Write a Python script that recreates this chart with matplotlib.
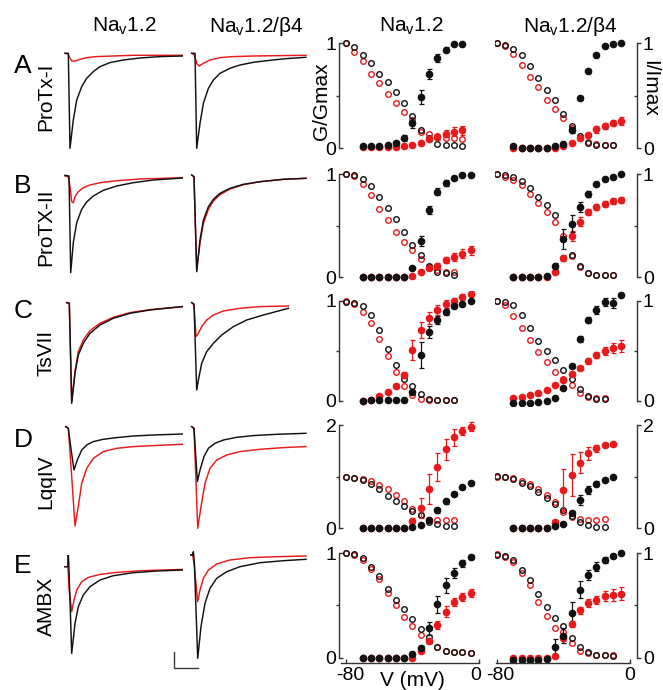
import numpy as np
import matplotlib.pyplot as plt
import matplotlib.transforms as mtransforms

plt.rcParams['font.family'] = ['Liberation Sans', 'DejaVu Sans']
plt.rcParams['mathtext.fontset'] = 'custom'
plt.rcParams['mathtext.rm'] = 'Liberation Sans'
plt.rcParams['mathtext.it'] = 'Liberation Sans:italic'

W, H = 663, 690
RED = '#e8191b'
BLK = '#111111'

# ---- labels
col_titles = ['Na$_\\mathrm{v}$1.2', 'Na$_\\mathrm{v}$1.2/\u03b24',
              'Na$_\\mathrm{v}$1.2', 'Na$_\\mathrm{v}$1.2/\u03b24']
row_letters = ['A', 'B', 'C', 'D', 'E']
toxins = ['ProTx-I', 'ProTX-II', 'TsVII', 'LqqIV', 'AMBX']
row_top = [1, 1, 1, 2, 1]

# ---- current traces (time, current) in arbitrary units, black = control, red = toxin
A1_ctl = [(0, 0), (3.3, 0), (5, -95), (8.3, -66.7), (11.7, -46.7), (16.7, -33.3), (21.7, -25), (28.3, -18.3),
          (35, -13.3), (45, -9.3), (58.3, -6.7), (75, -4.7), (95, -3.3), (117.7, -2.7)]
A1_tox = [(0, 0), (3.3, -0.7), (5, -5), (6.7, -7.7), (10, -7.7), (15, -6), (21.7, -4.3), (31.7, -3.3),
          (48.3, -2.7), (68, -2), (117.7, -2)]
A2_ctl = [(0, 0), (3.3, 0), (5, -95), (8.3, -70), (11.7, -50), (16.7, -35), (21.7, -26.7), (28.3, -20),
          (38.3, -15), (48.3, -11.7), (61.7, -9), (78.3, -7), (95, -5.3), (114.3, -4)]
A2_tox = [(0, 0), (2.7, -1.7), (5, -10), (7.3, -12.7), (11.7, -10), (18.3, -6.7), (28.3, -4.3), (41.7, -3.3),
          (61.7, -2.7), (114.3, -2)]
B1_ctl = [(0, 0.7), (4, 0), (5.7, -96.7), (8.3, -66.7), (11.7, -46.7), (16.7, -33.3), (21.7, -26), (28.3, -20),
          (38.3, -14.3), (51.7, -10), (68.3, -6.7), (88.3, -4), (117.7, -2)]
B1_tox = [(0, 0), (3.3, -0.7), (5, -10.7), (6.7, -25.7), (8.3, -26.7), (10, -20.7), (13.3, -15.7), (18.3, -11.7),
          (25, -9), (35, -6.7), (51.7, -4.7), (75, -3), (117.7, -1.7)]
B2_ctl = [(0, 1), (2.3, -0.7), (5, -95.7), (8.3, -64), (11.7, -44), (16.7, -30.7), (21.7, -23.3), (28.3, -17.3),
          (38.3, -12.3), (51.7, -8.3), (68.3, -5.7), (91.7, -3.3), (114.3, -2.3)]
B2_tox = [(0, 1), (2.3, -0.7), (5, -94), (8.3, -66.7), (11.7, -47.3), (16.7, -33.3), (21.7, -25), (28.3, -18.7),
          (38.3, -13), (51.7, -8.7), (68.3, -5.7), (91.7, -3.3), (114.3, -2.3)]
C1_ctl = [(1.7, 0.7), (4.3, 0), (6.7, -100), (10, -70), (13.3, -51.7), (18.3, -40), (25, -30), (35, -21.7),
          (48.3, -15), (65, -10), (85, -6.7), (117.7, -3.3)]
C1_tox = [(1.7, 0.7), (4.3, 0), (6.7, -98.3), (10, -68), (13.3, -48.3), (18.3, -36.7), (25, -27.3), (35, -20),
          (48.3, -14), (65, -9.3), (85, -6.3), (117.7, -3.3)]
C2_ctl = [(0, 0.7), (2.3, -0.7), (5, -86.7), (6.7, -76.7), (10, -60), (15, -48.3), (21.7, -40), (30, -31.7),
          (41.7, -23.3), (55, -16.7), (71.7, -11.7), (96.7, -5)]
C2_tox = [(0, 0.7), (2.3, -1.7), (4.3, -33.3), (6.7, -30), (10, -23.3), (15, -16.7), (21.7, -11.7), (31.7, -7.7),
          (48.3, -5), (68.3, -3.3), (96.7, -2.7)]
D1_ctl = [(0.7, 1.7), (3.3, 0), (5.7, -18.3), (9, -41.7), (12.3, -31.7), (16.7, -21.7), (21.7, -16.7),
          (28.3, -13.3), (38.3, -11), (51.7, -9.3), (68.3, -7.7), (88.3, -6.7), (117.7, -5.7)]
D1_tox = [(0.7, 1.7), (3.3, 0), (6.7, -48.3), (10, -97.7), (13.3, -78.3), (16.7, -55), (21.7, -40), (28.3, -30),
          (38.3, -23.3), (51.7, -20), (68.3, -18.3), (88.3, -17.3), (117.7, -16)]
D2_ctl = [(0, 1.7), (2.3, 0), (5.7, -53.3), (8.3, -41.7), (12.3, -28.3), (16.7, -20), (23.3, -15), (31.7, -11.7),
          (45, -9), (61.7, -7.3), (85, -6), (114.3, -5)]
D2_tox = [(0, 1.7), (2.3, 0), (6, -100), (9.3, -78.3), (13.3, -55), (18.3, -40), (25, -31.7), (35, -26.7),
          (48.3, -23.3), (68.3, -21), (91.7, -19.3), (114.3, -18.3)]
E1_ctl = [(0, 0), (2.7, 0), (3.3, 15), (4, -3.3), (6.7, -86.7), (10, -56.7), (13.3, -40), (18.3, -28.3),
          (25, -20), (35, -13.3), (48.3, -9), (68.3, -6), (91.7, -4.3), (117.7, -3.3)]
E1_tox = [(0, 0), (2.7, 0), (3.3, -6.7), (4, -21.7), (6.7, -45), (9, -33.3), (11.7, -23.3), (16.7, -15),
          (23.3, -10.7), (35, -7.7), (51.7, -5.7), (75, -4), (117.7, -2.7)]
E2_ctl = [(-1.7, 0), (1, 0), (1.7, 3.3), (2.7, -8.3), (6, -103.3), (9.3, -71.7), (13.3, -48.3), (18.3, -33.3),
          (25, -23.3), (35, -16.7), (48.3, -11.7), (68.3, -7.7), (91.7, -5.7), (114.3, -4.3)]
E2_tox = [(-1.7, 0), (1, 0), (2.7, -11.7), (6, -46.7), (8.3, -35), (11.7, -23.3), (16.7, -15), (25, -9),
          (38.3, -5), (58.3, -2.7), (85, -1.7), (114.3, -1)]
SCALE_T, SCALE_I = 24, 16

# ---- voltage protocols (mV)
V_INACT = [-80, -75, -70, -65, -60, -55, -50, -45, -40, -35, -30, -25, -20, -15, -10, -5]
V_ACT = [-70, -65, -60, -55, -50, -45, -40, -35, -30, -25, -20, -15, -10, -5]

# ---- I/Imax (open) and G/Gmax (filled); ctl = black, tox = red
A3_inact_ctl = [1.0, 0.96, 0.89, 0.81, 0.71, 0.63, 0.54, 0.43, 0.31, 0.17, 0.1, 0.04, 0.03, 0.03, 0.02]
A3_inact_tox = [1.0, 0.92, 0.83, 0.71, 0.62, 0.52, 0.43, 0.35, 0.27, 0.16, 0.14, 0.12, 0.1, 0.1, 0.09]
A3_act_ctl = [0.02, 0.02, 0.02, 0.03, 0.05, 0.1, 0.24, 0.49, 0.71, 0.86, 0.94, 0.99, 0.99]
A3_act_ctl_err = [0, 0, 0, 0.01, 0.02, 0.03, 0.05, 0.07, 0.05, 0.04, 0.02, 0.01, 0.01]
A3_act_tox = [0.01, 0.01, 0.01, 0.01, 0.01, 0.02, 0.03, 0.05, 0.09, 0.11, 0.14, 0.16, 0.17]
A3_act_tox_err = [0, 0, 0, 0, 0, 0, 0.01, 0.01, 0.02, 0.03, 0.03, 0.04, 0.04]

A4_inact_ctl = [1.0, 0.98, 0.95, 0.89, 0.78, 0.67, 0.56, 0.46, 0.33, 0.21, 0.12, 0.05, 0.03, 0.03, 0.03]
A4_inact_tox = [1.0, 0.97, 0.9, 0.79, 0.68, 0.58, 0.46, 0.37, 0.29, 0.19, 0.1, 0.06, 0.04, 0.03, 0.03]
A4_act_ctl = [0.02, 0.0, 0.0, 0.0, 0.0, 0.02, 0.04, 0.17, 0.48, 0.74, 0.89, 0.97, 0.99, 1.0]
A4_act_ctl_err = [0, 0, 0, 0, 0, 0, 0.01, 0.02, 0.02, 0.02, 0.01, 0.01, 0.01, 0]
A4_act_tox = [0.0, 0.0, 0.0, 0.0, 0.0, 0.0, 0.02, 0.05, 0.1, 0.13, 0.18, 0.21, 0.24, 0.26]
A4_act_tox_err = [0, 0, 0, 0, 0, 0, 0.01, 0.01, 0.02, 0.02, 0.03, 0.03, 0.03, 0.04]

B3_inact_ctl = [1.0, 0.99, 0.95, 0.88, 0.78, 0.67, 0.56, 0.44, 0.31, 0.22, 0.11, 0.05, 0.04, 0.02]
B3_inact_tox = [1.0, 0.98, 0.9, 0.8, 0.66, 0.55, 0.44, 0.34, 0.26, 0.18, 0.1, 0.07, 0.05, 0.05]
B3_act_ctl = [0, 0, 0, 0, 0, 0, 0.09, 0.35, 0.65, 0.83, 0.91, 0.96, 0.99, 0.99]
B3_act_ctl_err = [0, 0, 0, 0, 0, 0, 0.01, 0.05, 0.04, 0.03, 0.03, 0.02, 0.01, 0.01]
B3_act_tox = [0, 0, 0, 0, 0, 0, 0.01, 0.05, 0.09, 0.11, 0.17, 0.2, 0.23, 0.26]
B3_act_tox_err = [0, 0, 0, 0, 0, 0, 0, 0.01, 0.02, 0.03, 0.03, 0.04, 0.04, 0.04]

B4_inact_ctl = [1.0, 0.99, 0.97, 0.93, 0.86, 0.78, 0.7, 0.6, 0.37, 0.22, 0.11, 0.04, 0.02, 0.02, 0.02]
B4_inact_tox = [1.0, 0.97, 0.94, 0.89, 0.81, 0.72, 0.63, 0.54, 0.4, 0.21, 0.1, 0.04, 0.02, 0.02, 0.02]
B4_act_ctl = [0, 0, 0, 0, 0.01, 0.11, 0.37, 0.52, 0.68, 0.81, 0.9, 0.95, 0.97, 1.0]
B4_act_ctl_err = [0, 0, 0, 0, 0, 0.03, 0.1, 0.08, 0.05, 0.03, 0.02, 0.01, 0.01, 0]
B4_act_tox = [0, 0, 0, 0, 0, 0.05, 0.19, 0.4, 0.54, 0.63, 0.68, 0.71, 0.74, 0.75]
B4_act_tox_err = [0, 0, 0, 0, 0, 0.02, 0.03, 0.05, 0.04, 0.03, 0.03, 0.03, 0.03, 0.03]

C3_inact_ctl = [0.99, 0.98, 0.95, 0.86, 0.71, 0.52, 0.36, 0.22, 0.15, 0.07, 0.02, 0.01, 0.01, 0.01]
C3_inact_tox = [1.0, 0.97, 0.89, 0.78, 0.62, 0.45, 0.29, 0.15, 0.06, 0.02, 0.01, 0.01, 0.01, 0.01]
C3_act_ctl = [0, 0.01, 0.01, 0.01, 0.01, 0.01, 0.09, 0.46, 0.69, 0.81, 0.89, 0.95, 0.97, 1.0]
C3_act_ctl_err = [0, 0, 0, 0, 0, 0, 0.02, 0.13, 0.06, 0.04, 0.03, 0.02, 0.01, 0.01]
C3_act_tox = [0, 0.01, 0.05, 0.09, 0.15, 0.26, 0.51, 0.71, 0.83, 0.91, 0.97, 1.0, 1.04, 1.07]
C3_act_tox_err = [0, 0, 0, 0.01, 0.02, 0.03, 0.1, 0.08, 0.06, 0.05, 0.04, 0.03, 0.03, 0.03]

C4_inact_ctl = [1.0, 0.99, 0.96, 0.86, 0.73, 0.6, 0.5, 0.41, 0.31, 0.22, 0.12, 0.05, 0.02, 0.02]
C4_inact_tox = [1.0, 0.96, 0.85, 0.73, 0.61, 0.49, 0.39, 0.29, 0.22, 0.16, 0.08, 0.04, 0.03, 0.03]
C4_act_ctl = [-0.02, -0.02, -0.02, -0.01, 0.0, 0.03, 0.13, 0.35, 0.62, 0.81, 0.91, 0.99, 0.98, 1.06]
C4_act_ctl_err = [0, 0, 0, 0, 0, 0, 0.01, 0.02, 0.03, 0.03, 0.04, 0.04, 0.05, 0]
C4_act_tox = [0.03, 0.04, 0.06, 0.08, 0.11, 0.16, 0.21, 0.27, 0.33, 0.4, 0.46, 0.5, 0.53, 0.55]
C4_act_tox_err = [0, 0, 0, 0, 0, 0.01, 0.01, 0.02, 0.02, 0.03, 0.03, 0.04, 0.05, 0.06]

D3_inact_ctl = [0.99, 0.97, 0.94, 0.86, 0.76, 0.63, 0.53, 0.43, 0.34, 0.26, 0.13, 0.09, 0.05, 0.05]
D3_inact_tox = [1.0, 0.98, 0.95, 0.92, 0.84, 0.76, 0.65, 0.52, 0.37, 0.25, 0.16, 0.16, 0.16, 0.16]
D3_act_ctl = [0, 0, 0, 0, 0, 0.01, 0.02, 0.06, 0.17, 0.35, 0.52, 0.66, 0.79, 0.87]
D3_act_ctl_err = [0, 0, 0, 0, 0, 0, 0, 0, 0.01, 0.05, 0.05, 0.04, 0.02, 0.01]
D3_act_tox = [0, 0, 0, 0, 0, 0.01, 0.15, 0.39, 0.77, 1.19, 1.53, 1.76, 1.89, 1.97]
D3_act_tox_err = [0, 0, 0, 0, 0, 0, 0.04, 0.2, 0.29, 0.27, 0.2, 0.17, 0.08, 0.08]

D4_inact_ctl = [1.01, 1.0, 0.95, 0.88, 0.81, 0.71, 0.59, 0.48, 0.35, 0.23, 0.13, 0.06, 0.03, 0.02]
D4_inact_tox = [1.0, 0.99, 0.97, 0.92, 0.86, 0.77, 0.65, 0.5, 0.32, 0.21, 0.18, 0.17, 0.17, 0.18]
D4_act_ctl = [0, 0, 0, 0, 0.01, 0.05, 0.08, 0.29, 0.55, 0.74, 0.86, 0.94, 0.99]
D4_act_ctl_err = [0, 0, 0, 0, 0, 0, 0.02, 0.04, 0.1, 0.08, 0.05, 0.03, 0.01]
D4_act_tox = [0, 0, 0, 0, 0, 0.13, 0.74, 1.03, 1.27, 1.45, 1.55, 1.61, 1.63]
D4_act_tox_err = [0, 0, 0, 0, 0, 0.02, 0.4, 0.4, 0.2, 0.13, 0.07, 0.04, 0.03]

E3_inact_ctl = [1.0, 0.99, 0.95, 0.87, 0.78, 0.66, 0.55, 0.46, 0.37, 0.27, 0.2, 0.1, 0.06, 0.05, 0.05, 0.04]
E3_inact_tox = [1.0, 0.98, 0.93, 0.85, 0.75, 0.62, 0.5, 0.39, 0.3, 0.22, 0.16, 0.1, 0.06, 0.05, 0.05, 0.04]
E3_act_ctl = [0, 0, 0, 0, 0, 0, 0.03, 0.09, 0.28, 0.51, 0.69, 0.81, 0.9, 0.96]
E3_act_ctl_err = [0, 0, 0, 0, 0, 0, 0.01, 0.02, 0.06, 0.08, 0.07, 0.05, 0.03, 0.02]
E3_act_tox = [0, 0, 0, 0, 0, 0, 0, 0.06, 0.16, 0.31, 0.44, 0.53, 0.58, 0.62]
E3_act_tox_err = [0, 0, 0, 0, 0, 0, 0, 0.01, 0.02, 0.04, 0.05, 0.04, 0.04, 0.04]

E4_inact_ctl = [0.98, 0.97, 0.93, 0.84, 0.74, 0.61, 0.48, 0.38, 0.3, 0.19, 0.1, 0.05, 0.02, 0.02, 0.01]
E4_inact_tox = [0.99, 0.96, 0.91, 0.81, 0.69, 0.53, 0.4, 0.28, 0.24, 0.14, 0.06, 0.04, 0.02, 0.02, 0.02]
E4_act_ctl = [-0.02, -0.02, -0.02, -0.02, -0.01, 0.1, 0.21, 0.43, 0.65, 0.79, 0.87, 0.93, 0.97, 1.0]
E4_act_ctl_err = [0, 0, 0, 0, 0, 0.08, 0.07, 0.1, 0.08, 0.05, 0.04, 0.03, 0.02, 0]
E4_act_tox = [0, 0, 0, 0, 0, 0.01, 0.19, 0.32, 0.45, 0.52, 0.55, 0.59, 0.6, 0.61]
E4_act_tox_err = [0, 0, 0, 0, 0, 0, 0.03, 0.03, 0.03, 0.04, 0.04, 0.05, 0.06, 0.06]

traces = [[(A1_ctl, A1_tox), (A2_ctl, A2_tox)],
          [(B1_ctl, B1_tox), (B2_ctl, B2_tox)],
          [(C1_ctl, C1_tox), (C2_ctl, C2_tox)],
          [(D1_ctl, D1_tox), (D2_ctl, D2_tox)],
          [(E1_ctl, E1_tox), (E2_ctl, E2_tox)]]

curves = [[(A3_inact_ctl, A3_inact_tox, A3_act_ctl, A3_act_ctl_err, A3_act_tox, A3_act_tox_err),
           (A4_inact_ctl, A4_inact_tox, A4_act_ctl, A4_act_ctl_err, A4_act_tox, A4_act_tox_err)],
          [(B3_inact_ctl, B3_inact_tox, B3_act_ctl, B3_act_ctl_err, B3_act_tox, B3_act_tox_err),
           (B4_inact_ctl, B4_inact_tox, B4_act_ctl, B4_act_ctl_err, B4_act_tox, B4_act_tox_err)],
          [(C3_inact_ctl, C3_inact_tox, C3_act_ctl, C3_act_ctl_err, C3_act_tox, C3_act_tox_err),
           (C4_inact_ctl, C4_inact_tox, C4_act_ctl, C4_act_ctl_err, C4_act_tox, C4_act_tox_err)],
          [(D3_inact_ctl, D3_inact_tox, D3_act_ctl, D3_act_ctl_err, D3_act_tox, D3_act_tox_err),
           (D4_inact_ctl, D4_inact_tox, D4_act_ctl, D4_act_ctl_err, D4_act_tox, D4_act_tox_err)],
          [(E3_inact_ctl, E3_inact_tox, E3_act_ctl, E3_act_ctl_err, E3_act_tox, E3_act_tox_err),
           (E4_inact_ctl, E4_inact_tox, E4_act_ctl, E4_act_ctl_err, E4_act_tox, E4_act_tox_err)]]

# ---- layout (pixels)
trace_left = [63, 189.7]
trace_base = [(53.3, 53.3), (176, 176), (303.3, 303.3), (428.3, 428.3), (566.7, 555)]
iv_y = [(43.3, 148.3), (174, 277.3), (300.7, 400.7), (425, 528.3), (553, 657.5)]
iv_x = [(339.3, 480.7, -84, 1), (495.0, 637.2, -81, 4.5)]

fig = plt.figure(figsize=(W / 100, H / 100), dpi=100)


def box(x0, y0, x1, y1):
    return fig.add_axes([x0 / W, 1 - y1 / H, (x1 - x0) / W, (y1 - y0) / H])


def ftext(x, y, s, **kw):
    fig.text(x / W, 1 - y / H, s, **kw)


def nudge(label, dx_px):
    off = mtransforms.ScaledTranslation(dx_px / 100, 0, fig.dpi_scale_trans)
    label.set_transform(label.get_transform() + off)


for r in range(5):
    # current traces
    for c in range(2):
        base = trace_base[r][c]
        ax = box(trace_left[c], base - 12, trace_left[c] + 120, base + 112)
        ax.set_xlim(-2, 118)
        ax.set_ylim(-112, 12)
        ax.axis('off')
        ctl, tox = traces[r][c]
        t, i = zip(*tox)
        ax.plot(t, i, color=RED, lw=1.05)
        t, i = zip(*ctl)
        ax.plot(t, i, color=BLK, lw=1.05)

    # activation / inactivation curves
    top = row_top[r]
    y1, y0 = iv_y[r]
    span = y0 - y1
    for c in range(2):
        x0, x1, vmin, vmax = iv_x[c]
        ax = box(x0, y1 - 0.1 * span, x1, y0 + 0.05 * span)
        ax.set_xlim(vmin, vmax)
        ax.set_ylim(-0.05 * top, 1.1 * top)
        in_ctl, in_tox, ac_ctl, ac_ctl_e, ac_tox, ac_tox_e = curves[r][c]
        kw_open = dict(ls='none', marker='o', ms=4.0, mfc='none', mew=1.0)
        ax.plot(V_INACT[:len(in_tox)], in_tox, mec=RED, **kw_open)
        ax.plot(V_INACT[:len(in_ctl)], in_ctl, mec=BLK, **kw_open)
        kw_fill = dict(fmt='o', ms=4.5, capsize=1.8, elinewidth=0.9, capthick=0.9)
        ax.errorbar(V_ACT[:len(ac_tox)], ac_tox, yerr=ac_tox_e, color=RED, **kw_fill)
        ax.errorbar(V_ACT[:len(ac_ctl)], ac_ctl, yerr=ac_ctl_e, color=BLK, **kw_fill)

        for s in ['top', 'left', 'right', 'bottom']:
            ax.spines[s].set_visible(False)
        side = 'left' if c == 0 else 'right'
        ax.spines[side].set_visible(True)
        ax.spines[side].set_bounds(0, top)
        ax.spines[side].set_color('#333333')
        ax.spines[side].set_linewidth(1.0)
        ax.set_yticks([0, top])
        ax.set_yticklabels(['0', str(top)])
        ax.set_yticks([top / 2], minor=True)
        if c == 0:
            ax.tick_params(axis='y', which='major', direction='in', length=3, width=1,
                           labelsize=14, pad=2, color='#333333')
            ax.tick_params(axis='y', which='minor', direction='out', length=2.5, width=1, color='#333333')
        else:
            ax.yaxis.tick_right()
            ax.tick_params(axis='y', which='major', direction='out', length=3, width=1,
                           labelsize=14, pad=1, color='#333333')
            ax.tick_params(axis='y', which='minor', direction='in', length=2.5, width=1, color='#333333')
        if r == 4:
            ax.spines['bottom'].set_visible(True)
            ax.spines['bottom'].set_bounds(vmin + 1 if c == 0 else -80.5, 0)
            ax.spines['bottom'].set_color('#333333')
            ax.spines['bottom'].set_linewidth(1.0)
            ax.set_xticks([-80, 0])
            ax.set_xticklabels(['-80', '0'])
            ax.tick_params(axis='x', direction='in', length=3, width=1, labelsize=14, pad=3,
                           color='#333333')
            xl = ax.get_xticklabels()
            nudge(xl[0], 4)
            if c == 0:
                nudge(xl[1], -3)
        else:
            ax.set_xticks([])

# scale bar under the traces
sb = box(174, 652, 174 + SCALE_T, 652 + SCALE_I)
sb.set_xlim(0, SCALE_T)
sb.set_ylim(0, SCALE_I)
sb.axis('off')
sb.plot([0, 0, SCALE_T], [SCALE_I, 0, 0], color='#3a3a3a', lw=1.0, clip_on=False)

# text
for x, s in zip([124, 256, 411, 570], col_titles):
    ftext(x, 32, s, fontsize=15, ha='center', va='baseline')

for y, s in zip([73, 193, 318, 447, 573], row_letters):
    ftext(23, y, s, fontsize=19, ha='center', va='baseline')

for y, s in zip([97, 227, 353, 482, 606], toxins):
    ftext(46, y, s, fontsize=15, ha='center', va='center', rotation=90)

ftext(322, 101, 'G/Gmax', fontsize=15, ha='center', va='center', rotation=90)
ftext(650, 88, 'I/Imax', fontsize=15, ha='center', va='center', rotation=-90)
ftext(412, 680, 'V (mV)', fontsize=15, ha='center', va='center')

fig.savefig('out.png', dpi=100)
